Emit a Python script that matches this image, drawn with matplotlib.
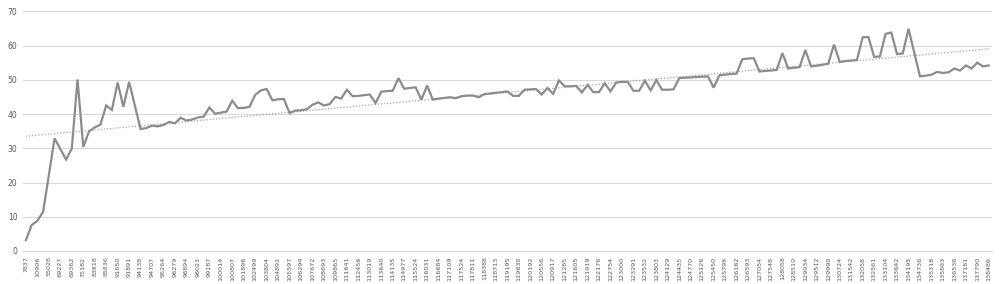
import numpy as np
import matplotlib
matplotlib.use("Agg")
import matplotlib.pyplot as plt

# tick labels shown on the category axis (every second category)
tick_labels = ["7837", "10906", "55028", "69227", "69362", "75182", "83818", "85836", "91650", "91891",
               "94138", "94707", "95264", "96279", "96894", "98023", "99187", "100014", "100807", "101896",
               "102499", "103804", "104892", "105597", "106294", "107672", "108693", "109865", "111641", "112456",
               "113019", "113640", "114135", "114977", "115524", "116031", "116684", "117109", "117524", "117811",
               "118388", "118713", "119195", "119630", "120192", "120556", "120917", "121285", "121605", "121919",
               "122176", "122754", "123000", "123291", "123532", "123803", "124129", "124435", "124770", "125126",
               "125450", "125798", "126162", "126593", "127054", "127548", "128058", "128510", "129034", "129512",
               "129990", "130724", "131542", "132058", "132561", "133104", "133642", "134195", "134736", "135318",
               "135893", "136536", "137181", "137790", "138486"]

# series values, one per category
values = [3.2, 7.6, 8.8, 11.5, 22.2, 32.9, 29.8, 26.7, 29.9, 50.1,
          30.4, 34.9, 36.1, 36.9, 42.5, 41.2, 49.2, 42.1, 49.4, 42.5,
          35.6, 35.9, 36.6, 36.4, 36.8, 37.7, 37.3, 38.9, 38.1, 38.4,
          39.0, 39.2, 41.9, 40.1, 40.4, 40.7, 43.9, 41.7, 41.8, 42.1,
          45.6, 46.9, 47.3, 44.0, 44.3, 44.4, 40.3, 41.0, 41.1, 41.4,
          42.7, 43.4, 42.5, 42.9, 45.0, 44.5, 47.1, 45.2, 45.3, 45.5,
          45.7, 43.2, 46.5, 46.7, 46.8, 50.5, 47.4, 47.6, 47.8, 44.2,
          48.3, 44.2, 44.5, 44.7, 44.9, 44.6, 45.2, 45.4, 45.4, 44.9,
          45.8, 46.0, 46.2, 46.4, 46.6, 45.3, 45.3, 47.1, 47.2, 47.3,
          45.7, 47.6, 45.9, 49.8, 48.1, 48.1, 48.2, 46.3, 48.5, 46.4,
          46.4, 49.0, 46.6, 49.2, 49.4, 49.4, 46.8, 46.8, 49.7, 46.9,
          49.9, 47.1, 47.1, 47.2, 50.5, 50.6, 50.7, 50.8, 50.9, 51.0,
          47.7, 51.3, 51.5, 51.7, 51.8, 56.0, 56.2, 56.3, 52.4, 52.6,
          52.7, 52.9, 57.8, 53.3, 53.5, 53.7, 58.7, 53.9, 54.1, 54.4,
          54.7, 60.3, 55.2, 55.5, 55.6, 55.8, 62.4, 62.5, 56.7, 56.8,
          63.4, 63.8, 57.5, 57.7, 64.9, 58.0, 51.0, 51.2, 51.5, 52.3,
          52.0, 52.2, 53.3, 52.7, 54.2, 53.3, 55.0, 53.9, 54.2]

y_ticks = [0, 10, 20, 30, 40, 50, 60, 70]

x = np.arange(len(values))

fig = plt.figure(figsize=(9.99, 2.84), dpi=100)
ax = fig.add_axes([0.0231, 0.1162, 0.9695, 0.8440])

# linear trendline, like the spreadsheet one
slope, intercept = np.polyfit(x, values, 1)
ax.plot(x, slope * x + intercept, color="#a6a6a6", lw=0.9, ls=(0, (1, 1.5)), zorder=2)

ax.plot(x, values, color="#8c8c8c", lw=1.6, solid_joinstyle="miter", zorder=3)

ax.set_xlim(-0.5, len(values) - 0.5)
ax.set_ylim(0, 70)
ax.set_yticks(y_ticks)
ax.set_yticklabels([str(t) for t in y_ticks])
ax.set_xticks(x[::2])
ax.set_xticklabels(tick_labels, rotation=90)

ax.grid(axis="y", color="#d9d9d9", lw=0.8)
ax.set_axisbelow(True)
for s in ["top", "right", "left"]:
    ax.spines[s].set_visible(False)
ax.spines["bottom"].set_color("#d9d9d9")
ax.spines["bottom"].set_linewidth(0.8)
ax.tick_params(axis="both", length=0, colors="#595959")
ax.tick_params(axis="y", labelsize=5.5, pad=4)
ax.tick_params(axis="x", labelsize=4.6, pad=4)

fig.savefig("out.png", dpi=100)
